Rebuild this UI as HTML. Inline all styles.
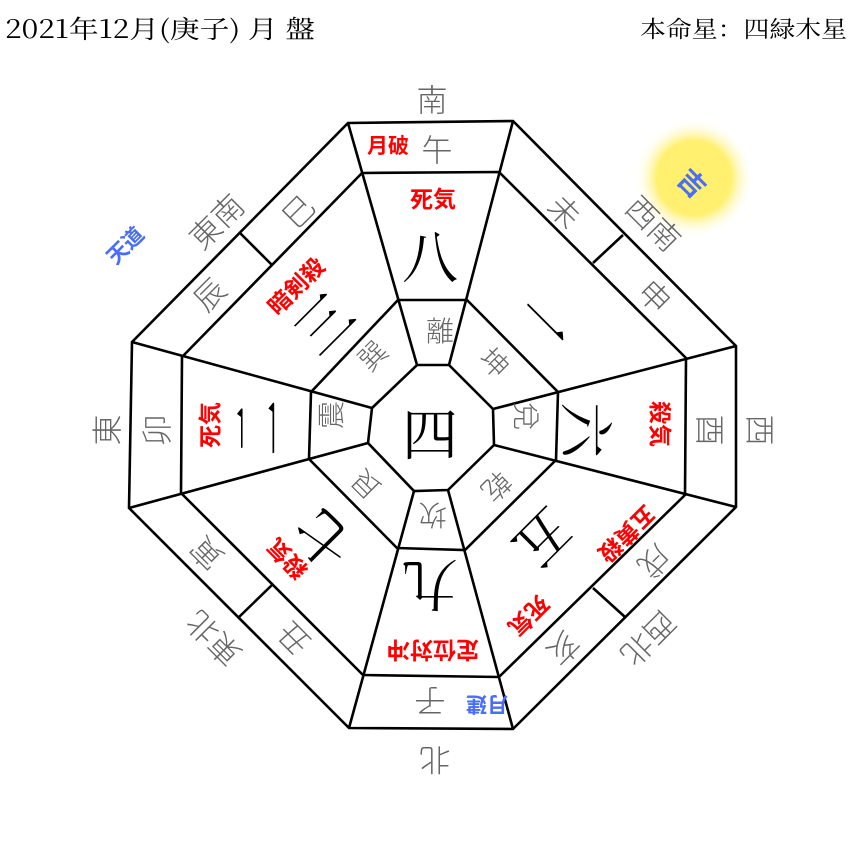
<!DOCTYPE html>
<html><head><meta charset="utf-8"><style>
html,body{margin:0;padding:0;background:#fff;}
svg{display:block;}
.g{fill:#666;font-family:"Noto Sans CJK JP","WenQuanYi Zen Hei",sans-serif;font-weight:300;}
.r{fill:#f00;font-family:"Noto Sans CJK JP",sans-serif;font-weight:bold;}
.b{fill:#000;font-family:"Noto Serif CJK SC",serif;}
.bl{fill:#4a6ef5;font-family:"Noto Sans CJK JP",sans-serif;font-weight:bold;}
</style></head><body>
<svg width="860" height="860" viewBox="0 0 860 860" xmlns="http://www.w3.org/2000/svg">
<defs><radialGradient id="sun"><stop offset="0" stop-color="#fff070"/><stop offset="0.62" stop-color="#fff070"/><stop offset="1" stop-color="#fff" stop-opacity="0"/></radialGradient></defs>
<rect width="860" height="860" fill="#fff"/>
<circle cx="694" cy="178" r="60" fill="url(#sun)"/>
<text x="5" y="38" font-family="'Noto Serif CJK SC',serif" font-size="25" textLength="310" lengthAdjust="spacingAndGlyphs">2021年12月(庚子) 月 盤</text>
<text x="640" y="37" font-family="'Noto Serif CJK SC',serif" font-size="23" textLength="207" lengthAdjust="spacingAndGlyphs">本命星：四緑木星</text>
<g fill="none" stroke="#000" stroke-width="2.6" stroke-linejoin="miter">
<polygon points="348,123 513,121 736,346 736,507 513,729 349,728 129,508 132,342"/>
<polygon points="362,173 499,172 686,358 685,495 499,677 363,675 181,493 182,357"/>
<polygon points="398,300 467,300 558,392 556,460 465,550 397,548 309,459 311,392"/>
<polygon points="417,365 449,365 493,409 494,445 448,490 414,491 368,443 372,408"/>
<line x1="348" y1="123" x2="417" y2="365"/><line x1="513" y1="121" x2="449" y2="365"/>
<line x1="736" y1="346" x2="493" y2="409"/><line x1="736" y1="507" x2="494" y2="445"/>
<line x1="513" y1="729" x2="448" y2="490"/><line x1="349" y1="728" x2="414" y2="491"/>
<line x1="129" y1="508" x2="368" y2="443"/><line x1="132" y1="342" x2="372" y2="408"/>
<line x1="240" y1="233" x2="272" y2="265"/><line x1="623" y1="235" x2="593" y2="263"/>
<line x1="593" y1="588" x2="625" y2="617"/><line x1="238" y1="618" x2="272" y2="585"/>
</g>
<g text-anchor="middle" dominant-baseline="central">
<g class="g" font-size="31">
<text x="432" y="98">南</text>
<text x="655" y="222" transform="rotate(45 655 222)">西南</text>
<text x="762" y="430" transform="rotate(90 762 430)">西</text>
<text x="650" y="640" transform="rotate(135 650 640)">西北</text>
<text x="435" y="762" transform="rotate(180 435 762)">北</text>
<text x="212" y="640" transform="rotate(-135 212 640)">東北</text>
<text x="105" y="430" transform="rotate(-90 105 430)">東</text>
<text x="215" y="220" transform="rotate(-45 215 220)">東南</text>
</g>
<g class="g" font-size="31">
<text x="437" y="148">午</text>
<text x="566" y="210" transform="rotate(45 566 210)">未</text>
<text x="656" y="295" transform="rotate(45 656 295)">申</text>
<text x="712" y="430" transform="rotate(90 712 430)">酉</text>
<text x="656" y="563" transform="rotate(135 656 563)">戌</text>
<text x="565" y="650" transform="rotate(135 565 650)">亥</text>
<text x="430" y="703" transform="rotate(180 430 703)">子</text>
<text x="292" y="640" transform="rotate(-135 292 640)">丑</text>
<text x="205" y="555" transform="rotate(-135 205 555)">寅</text>
<text x="155" y="430" transform="rotate(-90 155 430)">卯</text>
<text x="208" y="293" transform="rotate(-45 208 293)">辰</text>
<text x="297" y="210" transform="rotate(-45 297 210)">巳</text>
</g>
<text class="r" x="388" y="145" font-size="21">月破</text>
<text class="bl" x="487" y="705" font-size="21" transform="rotate(180 487 705)">月建</text>
<g class="g" font-size="28">
<text x="440" y="330">離</text>
<text x="495" y="362" transform="rotate(45 495 362)">坤</text>
<text x="527" y="416" transform="rotate(90 527 416)">兌</text>
<text x="497" y="487" transform="rotate(135 497 487)">乾</text>
<text x="433" y="516" transform="rotate(180 433 516)">坎</text>
<text x="365" y="485" transform="rotate(-135 365 485)">艮</text>
<text x="330" y="415" transform="rotate(-90 330 415)">震</text>
<text x="372" y="355" transform="rotate(-45 372 355)">巽</text>
</g>
<g class="b" font-size="56">
<text x="430" y="432">四</text>
<text x="430" y="255">八</text>
<text x="545" y="322" transform="rotate(45 545 322)">一</text>
<text x="588" y="430" transform="rotate(90 588 430)">六</text>
<text x="545" y="540" transform="rotate(135 545 540)">五</text>
<text x="430" y="587" transform="rotate(180 430 587)">九</text>
<text x="322" y="540" transform="rotate(-135 322 540)">七</text>
<text x="255" y="428" transform="rotate(-90 255 428)">二</text>
<text x="322" y="322" transform="rotate(-45 322 322)">三</text>
</g>
<g class="r" font-size="23">
<text x="433" y="197">死気</text>
<text x="662" y="424" transform="rotate(90 662 424)">殺気</text>
<text x="628" y="535" transform="rotate(135 628 535)">五黄殺</text>
<text x="530" y="617" transform="rotate(135 530 617)">死気</text>
<text x="433" y="652" transform="rotate(180 433 652)">定位対冲</text>
<text x="286" y="560" transform="rotate(-135 286 560)">殺気</text>
<text x="208" y="425" transform="rotate(-90 208 425)">死気</text>
<text x="295" y="285" transform="rotate(-45 295 285)">暗剣殺</text>
</g>
<text class="bl" x="125" y="245" font-size="21" transform="rotate(-45 125 245)">天道</text>
<text class="bl" x="693" y="182" font-size="27" transform="rotate(45 693 182)">吉</text>
</g>
</svg>
</body></html>
